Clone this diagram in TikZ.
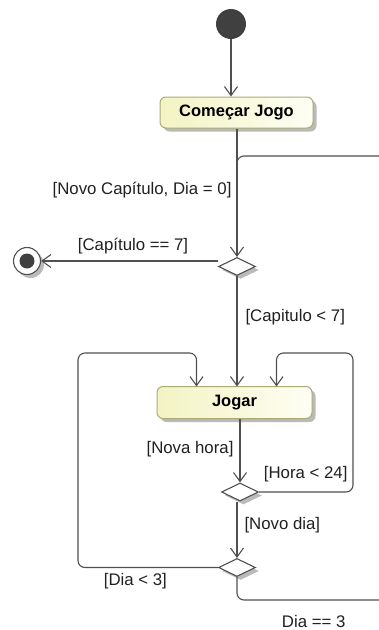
\documentclass[tikz,border=0pt]{standalone}
\usepackage{fontspec}
\setmainfont{Liberation Sans}
\usetikzlibrary{shapes.geometric,arrows.meta,shadows,calc}
\definecolor{linec}{HTML}{505050}
\definecolor{boxl}{HTML}{F3F3C4}
\definecolor{boxr}{HTML}{FEFEF4}
\definecolor{boxd}{HTML}{ABAB78}
\definecolor{startc}{HTML}{404040}
\definecolor{txtc}{HTML}{202020}
\begin{document}
\begin{tikzpicture}[x=1pt,y=-1pt,
  flow/.style={draw=linec, line width=1.1pt, -{Straight Barb[length=9pt,width=13pt,line width=1.1pt]}},
  plain/.style={draw=linec, line width=1.1pt},
  sh/.style={drop shadow={shadow xshift=3.5pt,shadow yshift=-3.5pt,fill=black!45,opacity=0.6}},
  actbox/.style={draw=boxd, line width=1pt, rounded corners=6pt, left color=boxl, right color=boxr,
    inner sep=0pt, font=\fontsize{16.5}{19}\selectfont\bfseries, text=black, sh},
  decision/.style={diamond, draw=linec, line width=1.1pt, fill=white, inner sep=0pt,
    minimum width=37pt, minimum height=18pt, sh},
  startnode/.style={circle, fill=startc, minimum size=30pt, inner sep=0pt},
  finalnode/.style={circle, draw=linec, line width=1.1pt, fill=white, minimum size=27pt, inner sep=0pt, sh},
  lbl/.style={font=\fontsize{16.8}{19}\selectfont, text=txtc, inner sep=0pt}
]
\useasboundingbox (0,0) rectangle (379,630);

\node[startnode] (start) at (231,24) {};
\node[actbox, minimum width=153pt, minimum height=31pt] (cj) at (236.5,112.5) {Começar Jogo};
\node[decision] (d1) at (237,266.5) {};
\node[finalnode] (fin) at (27,261) {};
\fill[startc] (fin.center) circle (7.5);
\node[actbox, minimum width=155pt, minimum height=32pt] (jogar) at (234.5,402.5) {Jogar};
\node[decision] (d2) at (240,492) {};
\node[decision] (d3) at (237,567.5) {};

\coordinate (rtop) at (379,156);
\coordinate (rbot) at (379,600);
\coordinate (lt) at (78,353);
\coordinate (rt) at (353,353);
\coordinate (jl) at (196.5,386.5);
\coordinate (jm) at (237,386.5);
\coordinate (jr) at (276.5,386.5);
\coordinate (jb) at (240,418.5);

\draw[flow] (start) -- (start |- cj.north);
\draw[flow] (d1 |- cj.south) -- (d1.north)
  node[lbl, pos=0.48, left=5pt] {[Novo Capítulo, Dia = 0]};
\draw[plain, rounded corners=7pt] (rtop) -| ($(d1.north)+(0,-60)$);
\draw[flow] (fin -| d1.west) -- (fin.east)
  node[lbl, pos=0.48, above=6pt] {[Capítulo == 7]};
\draw[flow] (d1.south) -- (jm)
  node[lbl, pos=0.37, right=8pt] {[Capitulo < 7]};
\draw[flow] (jb) -- (d2.north)
  node[lbl, pos=0.48, left=6pt] {[Nova hora]};
\draw[flow, rounded corners=7pt] (d2.east) -- (d2 -| rt)
  node[lbl, pos=1, anchor=south east, xshift=-5pt, yshift=9pt] {[Hora < 24]}
  -- (rt) -- (rt -| jr) -- (jr);
\draw[flow] (d2.south -| d3) -- (d3.north)
  node[lbl, pos=0.42, right=7pt] {[Novo dia]};
\draw[flow, rounded corners=7pt] (d3.west) -- (d3 -| lt)
  node[lbl, pos=0.59, below=5pt] {[Dia < 3]}
  -- (lt) -- (lt -| jl) -- (jl);
\draw[plain, rounded corners=7pt] (d3.south) |- (rbot)
  node[lbl, pos=0.77, below=15pt] {Dia == 3};
\end{tikzpicture}
\end{document}
